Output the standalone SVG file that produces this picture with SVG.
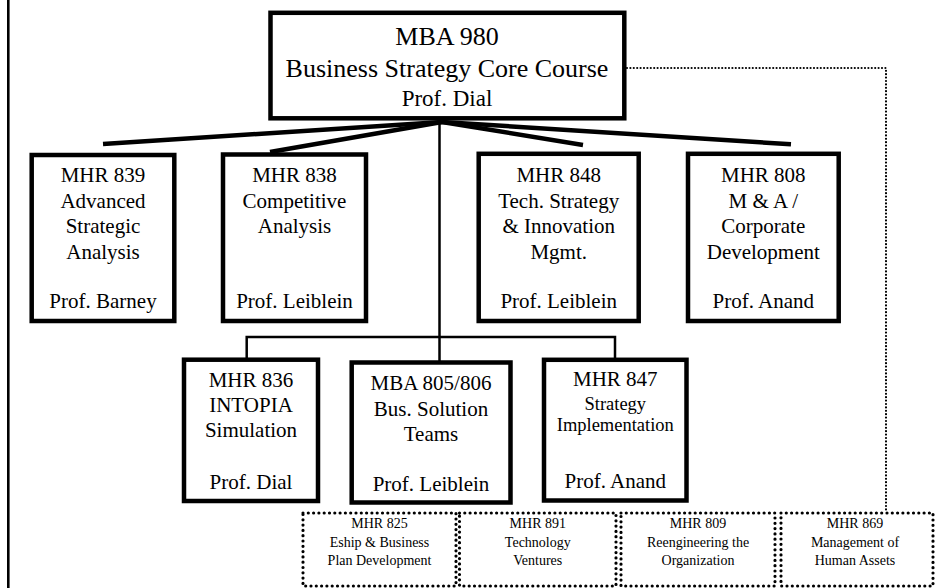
<svg xmlns="http://www.w3.org/2000/svg" width="952" height="588" viewBox="0 0 952 588">
<style>
.box{fill:#fff;stroke:#000;stroke-width:4.5}
.dbox{fill:#fff;stroke:#000;stroke-width:3.2;stroke-dasharray:0 5.3;stroke-linecap:round}
.dline{fill:none;stroke:#000;stroke-width:2.2;stroke-dasharray:0 3.4;stroke-linecap:round}
.thick{fill:none;stroke:#000;stroke-width:4.5}
.thin{fill:none;stroke:#000;stroke-width:2.5}
text{font-family:"Liberation Serif","Times New Roman",serif;fill:#000;text-anchor:middle}
.t{font-size:21px}
.s{font-size:18.5px}
.d{font-size:14px}
</style>
<rect width="952" height="588" fill="#fff"/>
<line x1="8.3" y1="0" x2="8.3" y2="588" stroke="#000" stroke-width="2.6"/>
<g id="connectors">
<line class="thick" x1="442" y1="122" x2="103" y2="144"/>
<line class="thick" x1="442" y1="122" x2="270" y2="152"/>
<line class="thick" x1="442" y1="122" x2="583" y2="145"/>
<line class="thick" x1="442" y1="122" x2="791" y2="144.3"/>
<line class="thin" x1="439.5" y1="121" x2="439.5" y2="361"/>
<polyline class="thin" points="246.7,358 246.7,337 615,337 615,358"/>
<polyline class="dline" points="627,68 886,68 886,511"/>
</g>
<g id="mba980">
<rect class="box" x="270.5" y="12.8" width="353.8" height="105.5"/>
<text x="447" y="45" font-size="26">MBA 980</text>
<text x="447" y="77" font-size="26">Business Strategy Core Course</text>
<text x="447" y="106" font-size="23">Prof. Dial</text>
</g>
<g id="mhr839">
<rect class="box" x="31.7" y="155" width="142.6" height="166"/>
<text class="t" x="103" y="182">MHR 839</text>
<text class="t" x="103" y="207.5">Advanced</text>
<text class="t" x="103" y="233">Strategic</text>
<text class="t" x="103" y="258.5">Analysis</text>
<text class="t" x="103" y="308">Prof. Barney</text>
</g>
<g id="mhr838">
<rect class="box" x="223" y="154.5" width="143" height="166.5"/>
<text class="t" x="294.5" y="182">MHR 838</text>
<text class="t" x="294.5" y="207.5">Competitive</text>
<text class="t" x="294.5" y="233">Analysis</text>
<text class="t" x="294.5" y="308">Prof. Leiblein</text>
</g>
<g id="mhr848">
<rect class="box" x="478.7" y="153.8" width="160" height="167.2"/>
<text class="t" x="558.7" y="182">MHR 848</text>
<text class="t" x="558.7" y="207.5">Tech. Strategy</text>
<text class="t" x="558.7" y="233">&amp; Innovation</text>
<text class="t" x="558.7" y="258.5">Mgmt.</text>
<text class="t" x="558.7" y="308">Prof. Leiblein</text>
</g>
<g id="mhr808">
<rect class="box" x="688" y="153.8" width="150.7" height="167.2"/>
<text class="t" x="763.3" y="182">MHR 808</text>
<text class="t" x="763.3" y="207.5">M &amp; A /</text>
<text class="t" x="763.3" y="233">Corporate</text>
<text class="t" x="763.3" y="258.5">Development</text>
<text class="t" x="763.3" y="308">Prof. Anand</text>
</g>
<g id="mhr836">
<rect class="box" x="184" y="359.7" width="134" height="141.3"/>
<text class="t" x="251" y="387.3">MHR 836</text>
<text class="t" x="251" y="412">INTOPIA</text>
<text class="t" x="251" y="437">Simulation</text>
<text class="t" x="251" y="489.3">Prof. Dial</text>
</g>
<g id="mba805">
<rect class="box" x="351.7" y="362.5" width="158.8" height="140"/>
<text class="t" x="431" y="390">MBA 805/806</text>
<text class="t" x="431" y="415.5">Bus. Solution</text>
<text class="t" x="431" y="440.7">Teams</text>
<text class="t" x="431" y="490.7">Prof. Leiblein</text>
</g>
<g id="mhr847">
<rect class="box" x="544" y="359.8" width="142.5" height="140.7"/>
<text class="t" x="615.3" y="386">MHR 847</text>
<text class="s" x="615.3" y="410">Strategy</text>
<text class="s" x="615.3" y="430.7">Implementation</text>
<text class="t" x="615.3" y="488.3">Prof. Anand</text>
</g>
<g id="mhr825">
<rect class="dbox" x="303" y="513" width="153" height="73"/>
<text class="d" x="379.5" y="528.3">MHR 825</text>
<text class="d" x="379.5" y="546.5">Eship &amp; Business</text>
<text class="d" x="379.5" y="565">Plan Development</text>
</g>
<g id="mhr891">
<rect class="dbox" x="459.5" y="513" width="156.5" height="73"/>
<text class="d" x="537.8" y="528.3">MHR 891</text>
<text class="d" x="537.8" y="546.5">Technology</text>
<text class="d" x="537.8" y="565">Ventures</text>
</g>
<g id="mhr809">
<rect class="dbox" x="621" y="513" width="154" height="73"/>
<text class="d" x="698" y="528.3">MHR 809</text>
<text class="d" x="698" y="546.5">Reengineering the</text>
<text class="d" x="698" y="565">Organization</text>
</g>
<g id="mhr869">
<rect class="dbox" x="781" y="513" width="152" height="73"/>
<text class="d" x="855" y="528.3">MHR 869</text>
<text class="d" x="855" y="546.5">Management of</text>
<text class="d" x="855" y="565">Human Assets</text>
</g>
</svg>
